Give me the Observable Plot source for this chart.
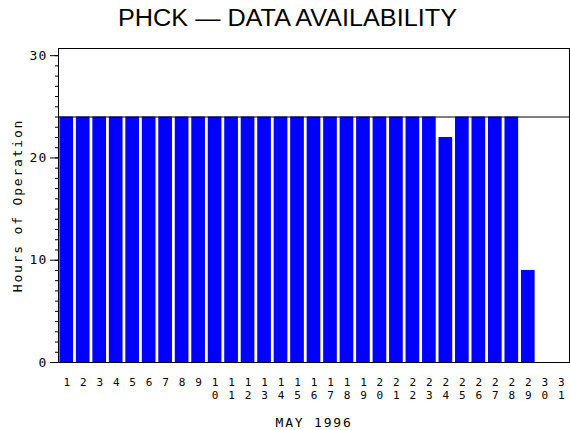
<!DOCTYPE html>
<html><head><meta charset="utf-8">
<script src="https://cdn.jsdelivr.net/npm/d3@7"></script>
<script src="https://cdn.jsdelivr.net/npm/@observablehq/plot@0.6"></script>
<style>body{margin:0;background:#fff;} #chart svg{display:block;}</style>
</head><body>
<div id="chart"></div>
<script>
const title = "PHCK — DATA AVAILABILITY";
const yLabel = "Hours of Operation";
const xLabel = "MAY 1996";
const days = [1,2,3,4,5,6,7,8,9,10,11,12,13,14,15,16,17,18,19,20,21,22,23,24,25,26,27,28,29,30,31];
const hours = [24,24,24,24,24,24,24,24,24,24,24,24,24,24,24,24,24,24,24,24,24,24,24,22,24,24,24,24,9,0,0];
const majorTicks = [0,10,20,30];
const minorTicks = [0,1,2,3,4,5,6,7,8,9,10,11,12,13,14,15,16,17,18,19,20,21,22,23,24,25,26,27,28,29,30];
const refLine = [24];

const data = days.map((d, i) => ({day: d, hours: hours[i]}));

const chart = document.getElementById("chart");
const ns = "http://www.w3.org/2000/svg";
const tsvg = document.createElementNS(ns, "svg");
tsvg.setAttribute("width", 570);
tsvg.setAttribute("height", 44);
const tt = document.createElementNS(ns, "text");
tt.setAttribute("x", 118);
tt.setAttribute("y", 26);
tt.setAttribute("textLength", 339);
tt.setAttribute("lengthAdjust", "spacingAndGlyphs");
tt.setAttribute("font-family", "Liberation Sans, Arial, sans-serif");
tt.setAttribute("font-size", 23);
tt.textContent = title;
tsvg.appendChild(tt);
chart.appendChild(tsvg);

const plot = Plot.plot({
  width: 570,
  height: 386,
  marginTop: 4,
  marginBottom: 68,
  marginLeft: 58,
  marginRight: 1,
  style: {fontFamily: "DejaVu Sans Mono, monospace", fontSize: "13px", color: "black", background: "white"},
  x: {type: "band", domain: days, paddingInner: 0.17, paddingOuter: 0.085, round: false},
  y: {domain: [0, 30.7]},
  marks: [
    Plot.barY(data, {x: "day", y: "hours", fill: "#0000ff"}),
    Plot.ruleY(refLine, {stroke: "black"}),
    Plot.frame({stroke: "black"}),
    Plot.axisY(minorTicks, {tickSize: 3, text: null, label: null}),
    Plot.axisY(majorTicks, {tickSize: 8, tickPadding: 3, label: yLabel, labelAnchor: "center", labelOffset: 46, labelArrow: "none"}),
    Plot.axisX({tickSize: 0, tickPadding: 16, fontSize: 11, tickFormat: d => String(d)[0], label: xLabel, labelAnchor: "center", labelOffset: 64, labelArrow: "none"}),
    Plot.axisX({tickSize: 0, tickPadding: 29, fontSize: 11, tickFormat: d => String(d).length > 1 ? String(d)[1] : "", label: null})
  ]
});
chart.appendChild(plot);
d3.select(plot).selectAll("text").each(function() {
  const t = this.textContent.replace(/\s*[↑↓←→]\s*/g, "");
  if (t === yLabel || t === xLabel) {
    if (this.textContent !== t) this.textContent = t;
    this.style.letterSpacing = "1.8px";
    this.style.fontSize = "13px";
  }
});
d3.select(plot).selectAll("[aria-label='y-axis tick label'] text").style("letter-spacing", "1.2px");
</script>
</body></html>
